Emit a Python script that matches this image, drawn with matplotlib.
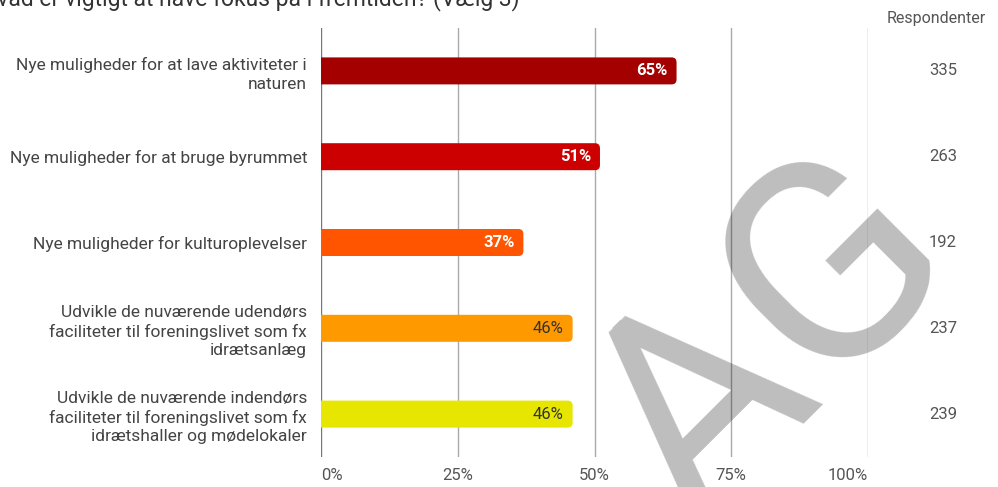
import numpy as np
import matplotlib.pyplot as plt
from matplotlib.patches import FancyBboxPatch
import matplotlib.transforms as mtransforms

plt.rcParams['font.family'] = ['Roboto', 'DejaVu Sans']

# data
categories = [
    "Nye muligheder for at lave aktiviteter i\nnaturen",
    "Nye muligheder for at bruge byrummet",
    "Nye muligheder for kulturoplevelser",
    "Udvikle de nuværende udendørs\nfaciliteter til foreningslivet som fx\nidrætsanlæg",
    "Udvikle de nuværende indendørs\nfaciliteter til foreningslivet som fx\nidrætshaller og mødelokaler",
]
percent = [65, 51, 37, 46, 46]
respondents = [335, 263, 192, 237, 239]
bar_colors = ["#a50000", "#cc0000", "#ff5500", "#ff9900", "#e6e600"]
label_colors = ["white", "white", "white", "#333333", "#333333"]
label_weights = ["bold", "bold", "bold", "normal", "normal"]
xticks = [0, 25, 50, 75, 100]
xtick_labels = ["0%", "25%", "50%", "75%", "100%"]
title = "Hvad er vigtigt at have fokus på i fremtiden? (Vælg 3)"

W, H = 998, 487
fig = plt.figure(figsize=(W / 100, H / 100), dpi=100)
ax = fig.add_axes([321 / W, 1 - 457 / H, (868 - 321) / W, (457 - 28) / H])

ypos = np.arange(len(categories))
ax.set_xlim(0, 100)
ax.set_ylim(len(categories) - 0.5, -0.5)

# px per data unit, for rounded corners
px_x = (868 - 321) / 100
px_y = (457 - 28) / len(categories)
aspect = px_x / px_y
bar_h = 27 / px_y
radius = 5 / px_x

for y, v, c in zip(ypos, percent, bar_colors):
    patch = FancyBboxPatch((-3, y - bar_h / 2), v + 3, bar_h,
                           boxstyle=f"round,pad=0,rounding_size={radius}",
                           mutation_aspect=aspect, facecolor=c,
                           edgecolor="none", zorder=3)
    ax.add_patch(patch)

for y, v, lc, lw in zip(ypos, percent, label_colors, label_weights):
    ax.text(v - 9 / px_x, y, f"{v}%", ha="right", va="center",
            color=lc, fontsize=12, fontweight=lw, zorder=4)

for x in xticks:
    ax.axvline(x, color="#777777" if x == 0 else "#aaaaaa", lw=1, zorder=1)

ax.set_xticks(xticks)
ax.set_xticklabels(xtick_labels, color="#555555", fontsize=12)
tl = ax.get_xticklabels()
tl[0].set_ha("left")
tl[-1].set_ha("right")
ax.set_yticks(ypos)
ax.set_yticklabels(categories, color="#444444", fontsize=12.5,
                   ha="right", multialignment="right", linespacing=1.3)
ax.tick_params(axis="both", length=0)
ax.tick_params(axis="x", pad=8)
ax.tick_params(axis="y", pad=10)
for s in ax.spines.values():
    s.set_visible(False)

# respondent column
trans = mtransforms.blended_transform_factory(fig.transFigure, ax.transData)
for y, n in zip(ypos, respondents):
    ax.text(943 / W, y, str(n), transform=trans, ha="center", va="center",
            color="#555555", fontsize=12, clip_on=False)
fig.text(936 / W, 1 - 18 / H, "Respondenter", ha="center", va="center",
         color="#555555", fontsize=11.5)

# title (top is cut off in the original)
fig.text(520 / W, 1 - 5 / H, title, ha="right", va="baseline",
         color="#333333", fontsize=16.5)

# watermark
fig.text(828 / W, 1 - 396 / H, "AG", rotation=45, rotation_mode="anchor",
         ha="center", va="baseline", fontsize=205, color="black",
         alpha=0.26, zorder=10)

fig.savefig("out.png", dpi=100)
